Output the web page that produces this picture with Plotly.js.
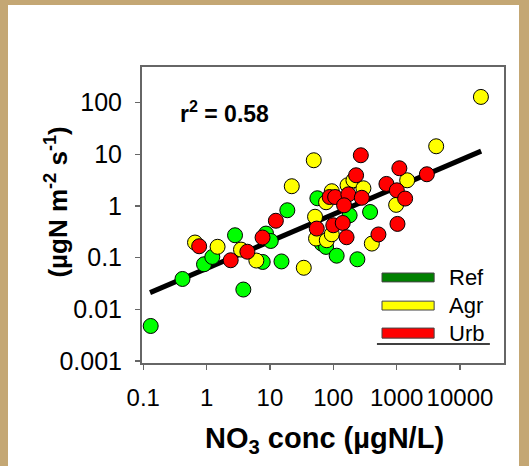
<!DOCTYPE html>
<html>
<head>
<meta charset="utf-8">
<script src="https://cdn.plot.ly/plotly-3.0.1.min.js"></script>
<style>
  html, body { margin: 0; padding: 0; width: 529px; height: 466px; background: #C4A774; overflow: hidden; }
  #chart { position: absolute; left: 8px; top: 5px; width: 511px; height: 461px; background: #ffffff; }
</style>
</head>
<body>
<div id="chart"></div>
<script>
// NO3 concentration (µgN/L) and uptake (µgN m-2 s-1) per land-use class
const refX = [0.131, 0.416, 0.91, 1.23, 2.81, 3.80, 7.69, 8.67, 10.3, 18.8, 15.2, 56.1, 65.8, 76.9, 381, 181, 113, 240];
const refY = [0.00475, 0.0386, 0.0743, 0.103, 0.271, 0.0241, 0.0824, 0.292, 0.210, 0.826, 0.0843, 1.41, 0.187, 0.161, 0.765, 0.66, 0.109, 0.0929];

const agrX = [0.656, 1.49, 3.49, 6.10, 34.2, 49.2, 22.1, 51.5, 53.4, 76.9, 78.9, 94.6, 94.6, 168, 208, 299, 406, 1466, 982, 4210, 21400];
const agrY = [0.196, 0.162, 0.143, 0.0877, 0.0636, 7.67, 2.41, 0.618, 0.234, 1.18, 0.217, 1.93, 0.283, 2.52, 3.14, 2.20, 0.187, 3.14, 1.05, 14.3, 129];

const urbX = [0.763, 2.40, 4.40, 7.64, 12.4, 54.8, 87.5, 272, 229, 107, 173, 282, 148, 100, 141, 162, 516, 690, 1104, 1007, 1362, 1031, 3000];
const urbY = [0.166, 0.0889, 0.130, 0.245, 0.517, 0.365, 1.49, 9.58, 3.93, 1.49, 1.68, 1.44, 1.03, 0.423, 0.469, 0.248, 0.281, 2.67, 5.37, 2.01, 1.39, 0.449, 4.11];

// regression line end points
const fitX = [0.128, 21600];
const fitY = [0.021, 11.5];

const xTicks = [0.1, 1, 10, 100, 1000, 10000];
const xTickText = ['0.1', '1', '10', '100', '1000', '10000'];
const yTicks = [0.001, 0.01, 0.1, 1, 10, 100];
const yTickText = ['0.001', '0.01', '0.1', '1', '10', '100'];

const legendNames = ['Ref', 'Agr', 'Urb'];
const legendColors = ['#008000', '#FFFF00', '#FF0000'];
const pointColors = ['#00FF00', '#FFFF00', '#FF0000'];

const FONT = 'Liberation Sans, Arial, sans-serif';

function pts(x, y, color, name) {
  return {
    x: x, y: y, type: 'scatter', mode: 'markers', name: name,
    marker: { size: 15, color: color, line: { color: '#000', width: 1 } },
    hoverinfo: 'x+y'
  };
}

const traces = [
  { x: fitX, y: fitY, type: 'scatter', mode: 'lines', line: { color: '#000', width: 5 }, hoverinfo: 'skip' },
  pts(refX, refY, pointColors[0], legendNames[0]),
  pts(agrX, agrY, pointColors[1], legendNames[1]),
  pts(urbX, urbY, pointColors[2], legendNames[2])
];

const legendY = [[0.274, 0.304], [0.179, 0.209], [0.084, 0.118]];
const shapes = [];
const annotations = [];
legendNames.forEach((n, i) => {
  shapes.push({ type: 'rect', xref: 'paper', yref: 'paper', x0: 0.663, x1: 0.807,
    y0: legendY[i][0], y1: legendY[i][1], fillcolor: legendColors[i], line: { color: '#444', width: 1 } });
  annotations.push({ xref: 'paper', yref: 'paper', x: 0.843, y: (legendY[i][0] + legendY[i][1]) / 2,
    xanchor: 'left', yanchor: 'middle', showarrow: false, text: n, font: { family: FONT, size: 22, color: '#000' } });
});
shapes.push({ type: 'line', xref: 'paper', yref: 'paper', x0: 0.649, x1: 0.961, y0: 0.064, y1: 0.064, line: { color: '#000', width: 1.5 } });

annotations.push({ xref: 'paper', yref: 'paper', x: 0.1, y: 0.848, xanchor: 'left', yanchor: 'middle', showarrow: false,
  text: '<b>r<sup>2</sup> = 0.58</b>', font: { family: FONT, size: 23, color: '#000' } });
annotations.push({ xref: 'paper', yref: 'paper', x: 0.5055, y: -0.26, xanchor: 'center', yanchor: 'middle', showarrow: false,
  text: '<b>NO<sub>3</sub> conc (µgN/L)</b>', font: { family: FONT, size: 29, color: '#000' } });
annotations.push({ xref: 'paper', yref: 'paper', x: -0.235, y: 0.545, xanchor: 'center', yanchor: 'middle', showarrow: false,
  textangle: -90, text: '<b>(µgN m<sup>-2</sup> s<sup>-1</sup>)</b>', font: { family: FONT, size: 26, color: '#000' } });

const layout = {
  width: 511, height: 461,
  margin: { l: 134, r: 15, t: 62, b: 103, pad: 0 },
  paper_bgcolor: '#ffffff', plot_bgcolor: '#ffffff',
  showlegend: false,
  font: { family: FONT, color: '#000' },
  xaxis: {
    type: 'log', range: [-1.02, 4.695], tickvals: xTicks, ticktext: xTickText,
    ticks: 'outside', ticklen: 5, tickcolor: '#666', tickwidth: 1.5, tickangle: 0,
    showgrid: false, zeroline: false, showline: true, linecolor: '#666', linewidth: 2, mirror: true,
    tickfont: { family: FONT, size: 24, color: '#000' }, ticklabelstandoff: 7
  },
  yaxis: {
    type: 'log', range: [-3.04, 2.69], tickvals: yTicks, ticktext: yTickText,
    ticks: 'outside', ticklen: 5, tickcolor: '#666', tickwidth: 1.5,
    showgrid: false, zeroline: false, showline: true, linecolor: '#666', linewidth: 2, mirror: true,
    tickfont: { family: FONT, size: 25, color: '#000' }, ticklabelstandoff: 8
  },
  shapes: shapes,
  annotations: annotations
};

Plotly.newPlot('chart', traces, layout, { displayModeBar: false, staticPlot: true });
</script>
</body>
</html>
